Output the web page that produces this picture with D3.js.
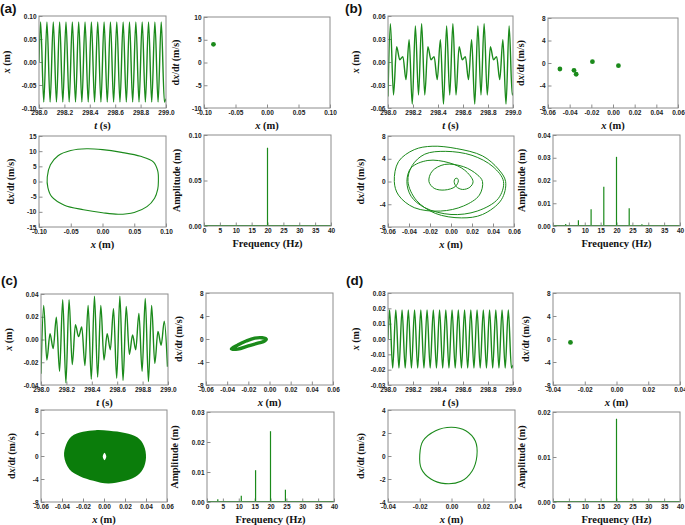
<!DOCTYPE html>
<html>
<head>
<meta charset="utf-8">
<script src="https://cdn.jsdelivr.net/npm/d3@7"></script>
<style>
  body { margin: 0; background: #fff; }
  svg text { font-family: "Liberation Sans", Arial, sans-serif; }
  .tick text { font-size: 6.5px; font-weight: bold; fill: #222; }
  .tick line { stroke: #8c8c8c; }
  .ttl { font-family: "Liberation Serif", "Times New Roman", serif; font-weight: bold; fill: #111; }
  .lbl { font-size: 13.5px; font-weight: bold; fill: #111; }
</style>
</head>
<body>
<svg id="fig" width="685" height="525"></svg>
<script>
// ── Data ──────────────────────────────────────────────────────────────────────
// time series: turning points (t, x)
const T20 = [298.000, 298.0125, 298.0375, 298.0625, 298.0875, 298.1125, 298.1375, 298.1625, 298.1875, 298.2125,
             298.2375, 298.2625, 298.2875, 298.3125, 298.3375, 298.3625, 298.3875, 298.4125, 298.4375, 298.4625,
             298.4875, 298.5125, 298.5375, 298.5625, 298.5875, 298.6125, 298.6375, 298.6625, 298.6875, 298.7125,
             298.7375, 298.7625, 298.7875, 298.8125, 298.8375, 298.8625, 298.8875, 298.9125, 298.9375, 298.9625,
             298.9875, 299.000];
const A_X = [0.000, 0.087, -0.087, 0.087, -0.087, 0.087, -0.087, 0.087, -0.087, 0.087,
             -0.087, 0.087, -0.087, 0.087, -0.087, 0.087, -0.087, 0.087, -0.087, 0.087,
             -0.087, 0.087, -0.087, 0.087, -0.087, 0.087, -0.087, 0.087, -0.087, 0.087,
             -0.087, 0.087, -0.087, 0.087, -0.087, 0.087, -0.087, 0.087, -0.087, 0.087,
             -0.087, -0.080];
const D_X = [0.000, 0.019, -0.019, 0.019, -0.019, 0.019, -0.019, 0.019, -0.019, 0.019,
             -0.019, 0.019, -0.019, 0.019, -0.019, 0.019, -0.019, 0.019, -0.019, 0.019,
             -0.019, 0.019, -0.019, 0.019, -0.019, 0.019, -0.019, 0.019, -0.019, 0.019,
             -0.019, 0.019, -0.019, 0.019, -0.019, 0.019, -0.019, 0.019, -0.019, 0.019,
             -0.019, -0.017];

const B_T = [298.000, 298.019, 298.044, 298.069, 298.094, 298.119, 298.144, 298.169, 298.194, 298.219,
             298.244, 298.269, 298.294, 298.319, 298.344, 298.369, 298.394, 298.419, 298.444, 298.469,
             298.494, 298.519, 298.544, 298.569, 298.594, 298.619, 298.644, 298.669, 298.694, 298.719,
             298.744, 298.769, 298.794, 298.819, 298.844, 298.869, 298.894, 298.919, 298.944, 298.969,
             298.994, 299.000];
const B_X = [-0.045, 0.050, -0.043, 0.020, 0.003, 0.007, -0.023, 0.029, -0.055, 0.047,
             -0.043, 0.050, -0.043, 0.020, 0.003, 0.007, -0.023, 0.029, -0.055, 0.047,
             -0.043, 0.050, -0.043, 0.020, 0.003, 0.007, -0.023, 0.029, -0.055, 0.047,
             -0.043, 0.050, -0.043, 0.020, 0.003, 0.007, -0.023, 0.029, -0.055, 0.047,
             -0.043, -0.040];

const C_T = [298.000, 298.021, 298.046, 298.071, 298.096, 298.121, 298.146, 298.171, 298.196, 298.221,
             298.246, 298.271, 298.296, 298.321, 298.346, 298.371, 298.396, 298.421, 298.446, 298.471,
             298.496, 298.521, 298.546, 298.571, 298.596, 298.621, 298.646, 298.671, 298.696, 298.721,
             298.746, 298.771, 298.796, 298.821, 298.846, 298.871, 298.896, 298.921, 298.946, 298.971,
             298.996];
const C_X = [-0.030, 0.030, -0.018, 0.005, -0.008, 0.0195, -0.028, 0.035, -0.038, 0.035,
             -0.022, 0.013, 0.0025, 0.011, -0.023, 0.030, -0.035, 0.038, -0.033, 0.030,
             -0.018, 0.005, -0.009, 0.027, -0.034, 0.038, -0.036, 0.029, -0.013, 0.004,
             -0.009, 0.023, -0.028, 0.036, -0.037, 0.030, -0.021, 0.007, -0.005, 0.016,
             -0.024];

// phase portraits (x, dx/dt)
const A_PX = [0.088, 0.087, 0.080, 0.060, 0.030, 0.000, -0.025, -0.050, -0.070, -0.082, -0.087,
              -0.086, -0.080, -0.060, -0.030, 0.000, 0.025, 0.050, 0.070, 0.082, 0.087];
const A_PV = [0.0, 3.5, 6.5, 8.3, 9.6, 10.5, 10.8, 10.2, 8.5, 5.5, 1.5,
              -2.0, -5.0, -7.8, -9.3, -10.3, -10.8, -10.2, -8.3, -5.5, -2.5];

const B_PX = [0.050, 0.045, 0.025, 0.000, -0.025, -0.038, -0.042, -0.038, -0.022, -0.002, 0.013,
              0.021, 0.018, 0.011, 0.005, 0.003, 0.004, 0.006, 0.007, 0.004, -0.006, -0.016,
              -0.021, -0.018, -0.006, 0.012, 0.025, 0.030, 0.027, 0.012, -0.010, -0.035, -0.050,
              -0.054, -0.050, -0.035, -0.018, 0.005, 0.030, 0.045, 0.052, 0.048, 0.030, 0.010,
              -0.015, -0.033, -0.041, -0.037, -0.025, -0.005, 0.020, 0.040];
const B_PV = [0.0, -3.0, -5.2, -5.8, -4.6, -2.6, 0.0, 2.4, 3.7, 3.3, 2.0,
              0.0, -1.0, -1.4, -0.9, 0.0, 0.5, 0.55, 0.1, -0.9, -1.5, -1.2,
              0.0, 1.8, 3.0, 2.6, 1.2, 0.0, -2.4, -4.3, -5.2, -4.6, -2.4,
              0.0, 3.5, 5.6, 6.2, 5.8, 4.5, 2.2, 0.0, -3.2, -5.8, -6.4,
              -5.6, -3.3, 0.0, 2.8, 4.8, 5.3, 4.6, 2.6];

const C_RX = [-0.036, -0.030, -0.022, -0.014, -0.007, -0.003, -0.005, -0.011, -0.020, -0.030];
const C_RV = [-1.7, -1.05, -0.35, 0.15, 0.22, -0.05, -0.4, -0.72, -1.2, -1.75];

const C_PX = [-0.038, -0.036, -0.031, -0.020, -0.008, 0.005, 0.020, 0.032, 0.038, 0.040,
              0.037, 0.030, 0.018, 0.004, -0.010, -0.023, -0.033];
const C_PV = [0.0, 2.0, 3.4, 4.2, 4.5, 4.4, 4.0, 3.2, 1.8, -0.3,
              -2.3, -3.6, -4.4, -4.8, -4.3, -3.5, -2.3];
const C_HX = [0.0005, 0.0022, 0.0005, -0.0012];
const C_HV = [0.55, -0.1, -0.75, -0.1];

const D_PX = [0.016, 0.015, 0.009, 0.000, -0.010, -0.018, -0.020, -0.019, -0.013, -0.004, 0.006, 0.013];
const D_PV = [0.0, 1.3, 2.2, 2.5, 2.2, 1.3, 0.1, -1.1, -2.0, -2.4, -2.2, -1.3];

// Poincaré points
const A_SX = [-0.085], A_SV = [4.0];
const B_SX = [-0.049, -0.036, -0.034, -0.019, 0.005];
const B_SV = [-1.07, -1.3, -2.0, 0.24, -0.47];
const D_SX = [-0.029], D_SV = [-0.6];

// spectra
const A_F = [20], A_AMP = [0.086];
const B_F = [4, 8, 12, 16, 20, 24, 28];
const B_AMP = [0.0009, 0.0025, 0.0074, 0.0173, 0.0304, 0.0078, 0.0008];
const C_F = [3.4, 10.8, 15.3, 20, 24.7];
const C_AMP = [0.0009, 0.0021, 0.0106, 0.0236, 0.0041];
const D_F = [20], D_AMP = [0.0185];

// ticks
const TICK_T  = [298.0, 298.2, 298.4, 298.6, 298.8, 299.0];
const TICK_F  = [0, 5, 10, 15, 20, 25, 30, 35, 40];
const TICK_X10 = [-0.10, -0.05, 0.00, 0.05, 0.10];
const TICK_X6  = [-0.06, -0.04, -0.02, 0.00, 0.02, 0.04, 0.06];
const TICK_X4  = [-0.04, -0.02, 0.00, 0.02, 0.04];

// ── Helpers ───────────────────────────────────────────────────────────────────
const GREEN = '#1b8a1b';
const FILL  = '#0b7d0b';
const FRAME = '#8c8c8c';

const svg  = d3.select('#fig');
const defs = svg.append('defs');
let clipN = 0;

const fmt = dec => d => d.toFixed(dec);
const mid = t => t.slice(1).map((v, i) => (v + t[i]) / 2);

function title(sel, parts, size) {
    sel.attr('class', 'ttl').attr('font-size', size);
    parts.forEach(([s, it]) => sel.append('tspan').attr('font-style', it ? 'italic' : 'normal').text(s));
}

const T_X  = [['x', 1], [' (m)', 0]];
const T_T  = [['t', 1], [' (s)', 0]];
const T_DV = [['d', 0], ['x', 1], ['/d', 0], ['t', 1], [' (m/s)', 0]];
const T_A  = [['Amplitude (m)', 0]];
const T_F  = [['Frequency (Hz)', 0]];

function plot(b, xDom, yDom, xT, yT, xDec, yDec, xTitle, yTitle, yOff = 26) {
    const [x0, x1, y0, y1] = b;
    const x = d3.scaleLinear().domain(xDom).range([x0, x1]);
    const y = d3.scaleLinear().domain(yDom).range([y1, y0]);

    const id = `clip${clipN++}`;
    defs.append('clipPath').attr('id', id).append('rect')
        .attr('x', x0).attr('y', y0).attr('width', x1 - x0).attr('height', y1 - y0);

    const gx = svg.append('g').attr('transform', `translate(0,${y1})`);
    gx.call(d3.axisBottom(x).tickValues(mid(xT)).tickSize(-2).tickFormat(''));
    gx.call(d3.axisBottom(x).tickValues(xT).tickSize(-3.5).tickPadding(2).tickFormat(fmt(xDec)));
    gx.selectAll('.domain').remove();

    const gy = svg.append('g').attr('transform', `translate(${x0},0)`);
    gy.call(d3.axisLeft(y).tickValues(mid(yT)).tickSize(-2).tickFormat(''));
    gy.call(d3.axisLeft(y).tickValues(yT).tickSize(-3.5).tickPadding(2.5).tickFormat(fmt(yDec)));
    gy.selectAll('.domain').remove();
    svg.selectAll('.tick line').attr('stroke', FRAME);

    const g = svg.append('g').attr('clip-path', `url(#${id})`);

    svg.append('rect')
        .attr('x', x0).attr('y', y0)
        .attr('width', x1 - x0).attr('height', y1 - y0)
        .attr('fill', 'none').attr('stroke', FRAME).attr('stroke-width', 1);

    svg.append('text')
        .attr('x', (x0 + x1) / 2).attr('y', y1 + 21)
        .attr('text-anchor', 'middle')
        .call(title, xTitle, 10.5);

    svg.append('text')
        .attr('transform', `translate(${x0 - yOff},${(y0 + y1) / 2}) rotate(-90)`)
        .attr('text-anchor', 'middle')
        .call(title, yTitle, 10);

    return { g, x, y };
}

function series(p, T, X) {
    p.g.append('path')
        .datum(d3.range(T.length))
        .attr('fill', 'none').attr('stroke', GREEN).attr('stroke-width', 1.4)
        .attr('d', d3.line().x(i => p.x(T[i])).y(i => p.y(X[i])).curve(d3.curveMonotoneX));
}

function loop(p, X, V, w = 1.1) {
    p.g.append('path')
        .datum(d3.range(X.length))
        .attr('fill', 'none').attr('stroke', GREEN).attr('stroke-width', w)
        .attr('d', d3.line().x(i => p.x(X[i])).y(i => p.y(V[i])).curve(d3.curveCatmullRomClosed.alpha(0.5)));
}

function dots(p, X, V) {
    p.g.selectAll(null)
        .data(d3.range(X.length))
        .join('circle')
        .attr('cx', i => p.x(X[i])).attr('cy', i => p.y(V[i]))
        .attr('r', 2.4).attr('fill', GREEN);
}

function spectrum(p, F, A) {
    p.g.append('line')
        .attr('x1', p.x(0)).attr('x2', p.x(40))
        .attr('y1', p.y(0) - 0.5).attr('y2', p.y(0) - 0.5)
        .attr('stroke', GREEN).attr('stroke-width', 1.2);
    p.g.selectAll(null)
        .data(d3.range(F.length))
        .join('line')
        .attr('x1', i => p.x(F[i])).attr('x2', i => p.x(F[i]))
        .attr('y1', p.y(0)).attr('y2', i => p.y(A[i]))
        .attr('stroke', GREEN).attr('stroke-width', 1.2);
}

function label(txt, x, y) {
    svg.append('text').attr('class', 'lbl').attr('x', x).attr('y', y).text(txt);
}

// ── Panel (a) ─────────────────────────────────────────────────────────────────
label('(a)', 0, 13);
series(plot([39, 166, 16, 108], [298, 299], [-0.1, 0.1], TICK_T, TICK_X10, 1, 2, T_T, T_X, 29), T20, A_X);
dots(plot([204, 330, 17, 108], [-0.1, 0.1], [-10, 10], TICK_X10, [-10, -5, 0, 5, 10], 2, 0, T_X, T_DV, 25), A_SX, A_SV);
loop(plot([39, 166, 136, 227], [-0.1, 0.1], [-15, 15], TICK_X10, [-15, -10, -5, 0, 5, 10, 15], 2, 0, T_X, T_DV, 25), A_PX, A_PV);
spectrum(plot([204, 331, 135, 226], [0, 40], [0, 0.1], TICK_F, [0, 0.05, 0.1], 0, 2, T_F, T_A, 24), A_F, A_AMP);

// ── Panel (b) ─────────────────────────────────────────────────────────────────
label('(b)', 345, 13);
series(plot([388, 513, 16, 108], [298, 299], [-0.06, 0.06], TICK_T, [-0.06, -0.03, 0, 0.03, 0.06], 1, 2, T_T, T_X, 29), B_T, B_X);
dots(plot([548, 678, 18, 108], [-0.06, 0.06], [-8, 8], TICK_X6, [-8, -4, 0, 4, 8], 2, 0, T_X, T_DV, 24), B_SX, B_SV);
loop(plot([388, 514, 136, 227], [-0.06, 0.06], [-8, 8], TICK_X6, [-8, -4, 0, 4, 8], 2, 0, T_X, T_DV, 24), B_PX, B_PV, 1);
spectrum(plot([553, 680, 135, 226], [0, 40], [0, 0.04], TICK_F, [0, 0.01, 0.02, 0.03, 0.04], 0, 2, T_F, T_A, 28), B_F, B_AMP);

// ── Panel (c) ─────────────────────────────────────────────────────────────────
label('(c)', 1, 285);
series(plot([41, 168, 294, 385], [298, 299], [-0.04, 0.04], TICK_T, [-0.04, -0.02, 0, 0.02, 0.04], 1, 2, T_T, T_X, 29), C_T, C_X);
loop(plot([206, 333, 293, 385], [-0.06, 0.06], [-8, 8], TICK_X6, [-8, -4, 0, 4, 8], 2, 0, T_X, T_DV, 24), C_RX, C_RV, 3.4);
{
    const p = plot([41, 167, 410, 502], [-0.06, 0.06], [-8, 8], TICK_X6, [-8, -4, 0, 4, 8], 2, 0, T_X, T_DV, 26);
    const ln = (X, V) => d3.line().x(i => p.x(X[i])).y(i => p.y(V[i]))
        .curve(d3.curveCatmullRomClosed.alpha(0.5))(d3.range(X.length));
    p.g.append('path')
        .attr('d', ln(C_PX, C_PV) + ln(C_HX, C_HV))
        .attr('fill', FILL).attr('fill-rule', 'evenodd');
}
spectrum(plot([207, 334, 412, 502], [0, 40], [0, 0.03], TICK_F, [0, 0.01, 0.02, 0.03], 0, 2, T_F, T_A, 29), C_F, C_AMP);

// ── Panel (d) ─────────────────────────────────────────────────────────────────
label('(d)', 346, 285);
series(plot([388, 513, 293, 385], [298, 299], [-0.03, 0.03], TICK_T, [-0.03, -0.02, -0.01, 0, 0.01, 0.02, 0.03], 1, 2, T_T, T_X, 29), T20, D_X);
dots(plot([553, 680, 293, 385], [-0.04, 0.04], [-8, 8], TICK_X4, [-8, -4, 0, 4, 8], 2, 0, T_X, T_DV, 24), D_SX, D_SV);
loop(plot([388, 515, 410, 502], [-0.04, 0.04], [-4, 4], TICK_X4, [-4, -2, 0, 2, 4], 2, 0, T_X, T_DV, 24), D_PX, D_PV);
spectrum(plot([553, 680, 412, 502], [0, 40], [0, 0.02], TICK_F, [0, 0.01, 0.02], 0, 2, T_F, T_A, 28), D_F, D_AMP);
</script>
</body>
</html>
